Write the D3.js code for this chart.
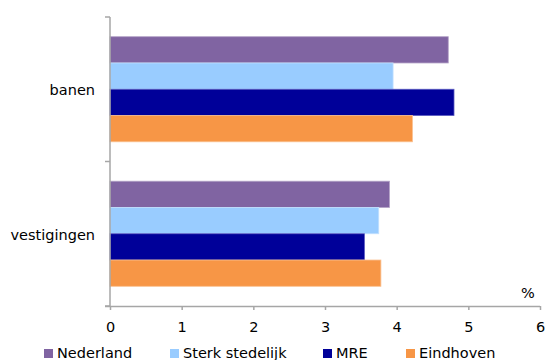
<!DOCTYPE html>
<html><head><meta charset="utf-8">
<script src="https://cdn.jsdelivr.net/npm/d3@7"></script>
<style>
body{margin:0;background:#fff;}
text{font-family:Verdana,"DejaVu Sans",sans-serif;fill:#000;}
</style></head>
<body><svg id="c" width="545" height="360"></svg>
<script>
const categories = ["banen", "vestigingen"];
const seriesNames = ["Nederland", "Sterk stedelijk", "MRE", "Eindhoven"];
const nederland = [4.72, 3.90];
const sterkStedelijk = [3.95, 3.75];
const mre = [4.80, 3.55];
const eindhoven = [4.22, 3.78];
const xTicks = [0, 1, 2, 3, 4, 5, 6];
const unitLabel = "%";

const seriesValues = [nederland, sterkStedelijk, mre, eindhoven];
const colors = ["#8064A2", "#99CCFF", "#000099", "#F79646"];
const strokes = ["#b3a2c7", "#c2e0ff", "#5a5ac0", "#fac090"];

const svg = d3.select("#c");
const mLeft = 110, mRight = 540, mTop = 17, mBottom = 306;
const fs = "14.5px";

const x = d3.scaleLinear().domain([0, 6]).range([mLeft, mRight]);
const y = d3.scaleBand().domain(categories).range([mTop, mBottom]).padding(0);
const yInner = d3.scaleBand().domain(seriesNames).range([0, y.bandwidth()])
  .paddingInner(0).paddingOuter(0.75);

const axisColor = "#a6a6a6";

// bars
categories.forEach((cat, ci) => {
  seriesNames.forEach((s, si) => {
    svg.append("rect")
      .attr("x", x(0))
      .attr("y", y(cat) + yInner(s))
      .attr("width", x(seriesValues[si][ci]) - x(0))
      .attr("height", yInner.bandwidth())
      .attr("fill", colors[si])
      .attr("stroke", strokes[si])
      .attr("stroke-width", 0.8);
  });
});

// x axis
const xAxis = svg.append("g").attr("transform", `translate(0,${mBottom})`)
  .call(d3.axisBottom(x).tickValues(xTicks).tickFormat(d3.format("d")).tickSize(4).tickSizeOuter(0));
xAxis.select(".domain").attr("stroke", axisColor).attr("stroke-width", 1.5)
  .attr("d", `M${mLeft - 5},0.5H${mRight}`);
xAxis.selectAll(".tick line").attr("stroke", axisColor).attr("stroke-width", 1.5);
xAxis.selectAll(".tick text").attr("y", 21).attr("dy", null).attr("dominant-baseline", "central")
  .style("font-size", fs)
  .style("font-family", "Verdana, 'DejaVu Sans', sans-serif").attr("fill", "#000");

// y axis
const yAxisG = svg.append("g");
yAxisG.append("line").attr("x1", mLeft).attr("x2", mLeft).attr("y1", mTop).attr("y2", mBottom)
  .attr("stroke", axisColor).attr("stroke-width", 1.5);
[mTop, y(categories[1]), mBottom].forEach(v => {
  yAxisG.append("line").attr("x1", mLeft - 5).attr("x2", mLeft).attr("y1", v).attr("y2", v)
    .attr("stroke", axisColor).attr("stroke-width", 1.5);
});
categories.forEach(cat => {
  svg.append("text").attr("x", 95).attr("y", y(cat) + y.bandwidth() / 2 + 1)
    .attr("text-anchor", "end").attr("dominant-baseline", "central")
    .style("font-size", fs).text(cat);
});

// unit label
svg.append("text").attr("x", 528).attr("y", 293).attr("text-anchor", "middle")
  .attr("dominant-baseline", "central").style("font-size", fs).text(unitLabel);

// legend
const legendX = [44, 170, 323, 406];
seriesNames.forEach((s, i) => {
  svg.append("rect").attr("x", legendX[i]).attr("y", 349).attr("width", 9).attr("height", 9)
    .attr("fill", colors[i]);
  svg.append("text").attr("x", legendX[i] + 13).attr("y", 353)
    .attr("dominant-baseline", "central").style("font-size", fs).text(s);
});
</script></body></html>
